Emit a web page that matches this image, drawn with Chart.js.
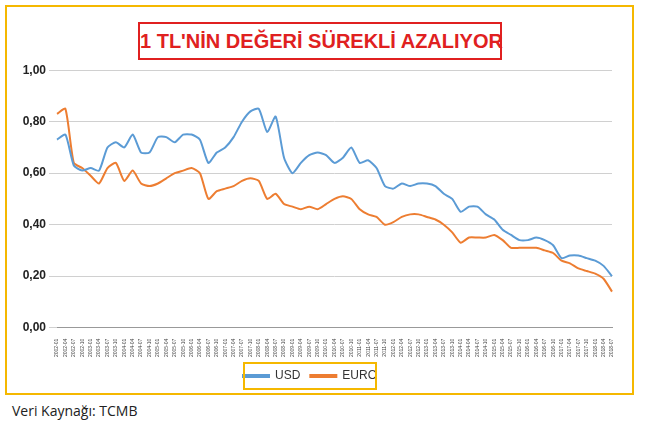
<!DOCTYPE html>
<html><head><meta charset="utf-8">
<script src="https://cdn.jsdelivr.net/npm/chart.js@4"></script>
<style>
body{margin:0;background:#fff;font-family:Calibri,"Liberation Sans",Arial,sans-serif;}
#frame{position:absolute;left:5px;top:5px;width:625px;height:386px;border:2px solid #f5b800;}
#title{position:absolute;left:138px;top:22px;width:360px;height:34px;border:2px solid #e02020;color:#e02020;white-space:nowrap;
font:bold 20px "Liberation Sans Narrow","Liberation Sans",Arial,sans-serif;text-align:center;line-height:34px;}
#wrap{position:absolute;left:8px;top:60px;width:618px;height:332px;}
#src{position:absolute;left:12px;top:401px;font:14px "Open Sans",Arial,sans-serif;color:#222;}
</style></head><body>
<div id="frame"></div>
<div id="title">1 TL'NİN DEĞERİ SÜREKLİ AZALIYOR</div>
<div id="wrap"><canvas id="c"></canvas></div>
<div id="src">Veri Kaynağı: TCMB</div>
<script>
const labels = [];
for (let y = 2002; y <= 2018; y++) for (const m of ["01","04","07","10"]) if (!(y === 2018 && m === "10")) labels.push(y + "-" + m);
const usd = [0.73,0.75,0.63,0.61, 0.62,0.61,0.70,0.72, 0.70,0.75,0.68,0.68, 0.74,0.74,0.72,0.75,
  0.75,0.73,0.64,0.68, 0.70,0.74,0.80,0.84, 0.85,0.76,0.82,0.66, 0.60,0.64,0.67,0.68,
  0.67,0.64,0.66,0.70, 0.64,0.65,0.62,0.55, 0.54,0.56,0.55,0.56, 0.56,0.55,0.52,0.50,
  0.45,0.47,0.47,0.44, 0.42,0.38,0.36,0.34, 0.34,0.35,0.34,0.32, 0.27,0.28,0.28,0.27, 0.26,0.24,0.20];
const euro = [0.83,0.85,0.64,0.62, 0.59,0.56,0.62,0.64, 0.57,0.61,0.56,0.55, 0.56,0.58,0.60,0.61,
  0.62,0.60,0.50,0.53, 0.54,0.55,0.57,0.58, 0.57,0.50,0.52,0.48, 0.47,0.46,0.47,0.46,
  0.48,0.50,0.51,0.50, 0.46,0.44,0.43,0.40, 0.41,0.43,0.44,0.44, 0.43,0.42,0.40,0.37,
  0.33,0.35,0.35,0.35, 0.36,0.34,0.31,0.31, 0.31,0.31,0.30,0.29, 0.26,0.25,0.23,0.22, 0.21,0.19,0.14];

const legendBox = {
  id: "legendBox",
  afterDraw(chart) {
    const l = chart.legend, ctx = chart.ctx;
    const cx = (l.left + l.right) / 2;
    ctx.save();
    ctx.strokeStyle = "#f5b800"; ctx.lineWidth = 2;
    ctx.strokeRect(cx - 66, l.top + 3, 132, l.height - 6);
    ctx.restore();
  }
};

new Chart(document.getElementById("c"), {
  type: "line",
  data: {
    labels: labels,
    datasets: [
      { label: "USD", data: usd, borderColor: "#5b9bd5", backgroundColor: "#5b9bd5", borderWidth: 2, pointRadius: 0, tension: 0.2 },
      { label: "EURO", data: euro, borderColor: "#ed7d31", backgroundColor: "#ed7d31", borderWidth: 2, pointRadius: 0, tension: 0.2 }
    ]
  },
  options: {
    responsive: true, maintainAspectRatio: false, animation: false,
    layout: { padding: { right: 14, top: 4 } },
    plugins: {
      legend: { position: "bottom",
        labels: { boxWidth: 26, boxHeight: 2, padding: 10, color: "#333", font: { size: 12, family: "Liberation Sans" } } },
      tooltip: { enabled: false }
    },
    scales: {
      x: { grid: { display: false }, border: { color: "#999" },
        ticks: { autoSkip: false, maxRotation: 90, minRotation: 90, color: "#444", font: { size: 5 } } },
      y: { min: 0, max: 1, grid: { color: "#d0d0d0" }, border: { display: false },
        afterFit: s => { s.width = 49; },
        ticks: { stepSize: 0.2, color: "#222", font: { size: 12, weight: "bold", family: "Liberation Sans" },
          callback: v => v.toFixed(2).replace(".", ",") } }
    }
  },
  plugins: [legendBox]
});
</script>
</body></html>
